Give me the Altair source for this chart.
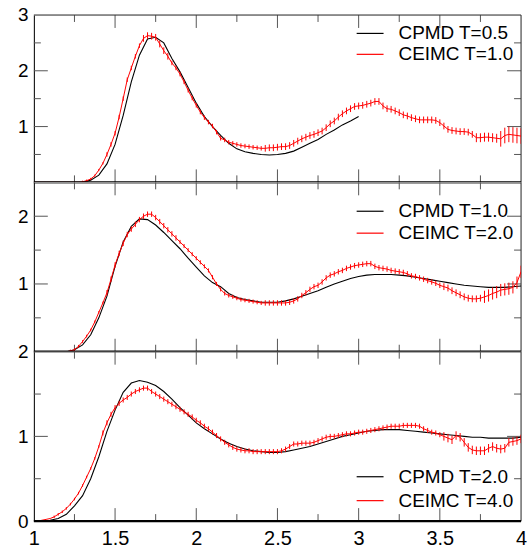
import altair as alt
import pandas as pd

FONT = "Liberation Sans"
W = 489
HEIGHTS = [168, 170, 170]
Y_MAX = [3.0, 2.5, 2.0]
Y_LABELS = [[1, 2, 3], [1, 2], [0, 1, 2]]
Y_MAJOR = [[1, 2], [1, 2], [1]]
Y_MINOR = [[0.5, 1.5, 2.5], [0.5, 1.5], [0.5, 1.5]]
X_MAJOR = [1.5, 2.0, 2.5, 3.0, 3.5]
X_MINOR = [1.25, 1.75, 2.25, 2.75, 3.25, 3.75]
X_LABELS = [1, 1.5, 2, 2.5, 3, 3.5, 4]
BLACK_NAMES = ["CPMD T=0.5", "CPMD T=1.0", "CPMD T=2.0"]
RED_NAMES = ["CEIMC T=1.0", "CEIMC T=2.0", "CEIMC T=4.0"]

# sampling grids
X_RED = [round(1.0 + 0.025 * i, 3) for i in range(121)]
X_BLACK = [round(1.0 + 0.05 * i, 3) for i in range(61)]

# ---- top panel ----
TOP_BLACK = [0, 0, 0, 0, 0, 0, 0.0, 0.04, 0.13, 0.33, 0.68, 1.20, 1.80, 2.28, 2.57, 2.60,
             2.50, 2.22, 1.98, 1.70, 1.42, 1.18, 1.00, 0.84, 0.70, 0.60, 0.55, 0.52, 0.50,
             0.49, 0.50, 0.52, 0.56, 0.63, 0.70, 0.77, 0.86, 0.94, 1.03, 1.10, 1.18]
TOP_RED = [0, 0, 0, 0, 0, 0, 0, 0, 0, 0, 0, 0,
           0.01, 0.03, 0.06, 0.12, 0.22, 0.34, 0.50, 0.68, 0.88, 1.17, 1.50, 1.84, 2.05,
           2.26, 2.45, 2.58, 2.63, 2.62, 2.60, 2.48, 2.36, 2.26, 2.14, 2.05, 1.94, 1.80,
           1.65, 1.51, 1.38, 1.26, 1.16, 1.08, 1.01, 0.90, 0.79, 0.76, 0.72, 0.70, 0.68,
           0.66, 0.65, 0.64, 0.63, 0.62, 0.61, 0.61, 0.62, 0.62, 0.63, 0.64, 0.64, 0.66,
           0.70, 0.74, 0.78, 0.81, 0.84, 0.86, 0.89, 0.92, 0.98, 1.05, 1.10, 1.17, 1.23,
           1.28, 1.32, 1.36, 1.37, 1.38, 1.40, 1.42, 1.45, 1.45, 1.37, 1.32, 1.31, 1.28,
           1.25, 1.21, 1.19, 1.16, 1.14, 1.12, 1.12, 1.12, 1.12, 1.11, 1.07, 1.01, 0.95,
           0.93, 0.92, 0.91, 0.91, 0.90, 0.86, 0.80, 0.80, 0.81, 0.81, 0.80, 0.79, 0.78,
           0.84, 0.86, 0.85, 0.84, 0.83]
TOP_ERR = [0, 0, 0, 0, 0, 0, 0, 0, 0, 0, 0, 0,
           0.02, 0.02, 0.02, 0.02, 0.02, 0.02,
           0.04, 0.04, 0.04, 0.04, 0.04, 0.04, 0.04, 0.04, 0.04,
           0.06, 0.06, 0.06, 0.06, 0.06, 0.06, 0.06,
           0.04, 0.04, 0.04, 0.04, 0.04, 0.04, 0.04, 0.04, 0.04, 0.04, 0.04, 0.04,
           0.04, 0.04, 0.04, 0.04, 0.04, 0.04, 0.04, 0.04, 0.04, 0.04, 0.04,
           0.06, 0.06, 0.06, 0.06, 0.06, 0.06, 0.06, 0.06, 0.06, 0.06, 0.06, 0.06, 0.06,
           0.06, 0.06, 0.06, 0.06, 0.06, 0.06, 0.06, 0.06, 0.06, 0.06, 0.06, 0.06, 0.06,
           0.06, 0.06, 0.06, 0.06, 0.06, 0.06, 0.06, 0.06, 0.06, 0.06, 0.06, 0.06, 0.06,
           0.06, 0.06, 0.06, 0.06, 0.06, 0.06, 0.06, 0.06, 0.06, 0.06, 0.06, 0.06, 0.06,
           0.08, 0.08, 0.08, 0.08, 0.08, 0.08,
           0.14, 0.14, 0.14, 0.14, 0.14, 0.14]

# ---- middle panel ----
MID_BLACK = [0, 0, 0, 0, 0.0, 0.03, 0.10, 0.25, 0.50, 0.82, 1.26, 1.62, 1.85, 1.96, 1.95,
             1.87, 1.76, 1.64, 1.52, 1.38, 1.25, 1.12, 1.02, 0.96, 0.86, 0.80, 0.77, 0.75,
             0.73, 0.73, 0.73, 0.75, 0.78, 0.82, 0.86, 0.90, 0.95, 1.00, 1.04, 1.08, 1.11,
             1.13, 1.14, 1.14, 1.14, 1.13, 1.12, 1.10, 1.08, 1.06, 1.04, 1.02, 1.00, 0.98,
             0.97, 0.96, 0.95, 0.95, 0.95, 0.96, 0.97]
MID_RED = [0, 0, 0, 0, 0, 0, 0, 0, 0,
           0.01, 0.03, 0.08, 0.15, 0.23, 0.32, 0.44, 0.58, 0.72, 0.87, 1.07, 1.28, 1.45,
           1.60, 1.73, 1.81, 1.88, 1.95, 2.00, 2.03, 2.03, 1.98, 1.92, 1.86, 1.80, 1.74,
           1.68, 1.62, 1.56, 1.50, 1.44, 1.38, 1.32, 1.26, 1.20, 1.10, 1.00, 0.92, 0.86,
           0.83, 0.81, 0.79, 0.77, 0.76, 0.75, 0.74, 0.73, 0.72,
           0.72, 0.72, 0.72, 0.72, 0.72, 0.72, 0.73, 0.75, 0.78, 0.83, 0.87, 0.92, 0.96,
           0.98, 1.03, 1.09, 1.13, 1.15, 1.18, 1.20, 1.23, 1.25, 1.27, 1.28, 1.29, 1.30,
           1.30, 1.26, 1.24, 1.23, 1.22, 1.20, 1.19, 1.18, 1.17, 1.15, 1.12, 1.11, 1.09,
           1.07, 1.05, 1.03, 1.01, 0.98, 0.96, 0.94, 0.90, 0.87, 0.84, 0.81, 0.79, 0.78,
           0.78, 0.79, 0.81, 0.83, 0.86, 0.88, 0.91, 0.92, 0.93, 0.95, 1.02, 1.18]
MID_ERR = [0, 0, 0, 0, 0, 0, 0, 0, 0,
           0.02, 0.02, 0.02, 0.02, 0.02, 0.02, 0.02, 0.02, 0.02,
           0.04, 0.04, 0.04, 0.04, 0.04, 0.04, 0.04, 0.04, 0.04, 0.04, 0.04, 0.04, 0.04,
           0.04, 0.04, 0.04, 0.04, 0.04,
           0.03, 0.03, 0.03, 0.03, 0.03, 0.03, 0.03, 0.03, 0.03, 0.03, 0.03, 0.03, 0.03,
           0.03, 0.03, 0.03, 0.03, 0.03, 0.03, 0.03, 0.03,
           0.04, 0.04, 0.04, 0.04, 0.04, 0.04, 0.04, 0.04, 0.04, 0.04, 0.04, 0.04, 0.04,
           0.04, 0.04, 0.04, 0.04, 0.04, 0.04, 0.04, 0.04, 0.04, 0.04, 0.04, 0.04, 0.04,
           0.04, 0.04, 0.04, 0.04, 0.04, 0.04, 0.04, 0.04, 0.04, 0.04, 0.04, 0.04, 0.04,
           0.04, 0.04, 0.04, 0.04, 0.04,
           0.05, 0.05, 0.05, 0.05, 0.05, 0.05, 0.05, 0.05, 0.05, 0.05,
           0.09, 0.09, 0.09, 0.09, 0.09, 0.09, 0.09, 0.09, 0.09, 0.09]

# ---- bottom panel ----
BOT_BLACK = [0, 0, 0.01, 0.03, 0.08, 0.18, 0.30, 0.50, 0.76, 1.06, 1.31, 1.52, 1.63, 1.66,
             1.64, 1.60, 1.53, 1.44, 1.34, 1.25, 1.16, 1.09, 1.03, 0.97, 0.92, 0.88, 0.85,
             0.83, 0.82, 0.81, 0.81, 0.82, 0.84, 0.86, 0.88, 0.91, 0.94, 0.97, 1.00, 1.02,
             1.04, 1.06, 1.07, 1.08, 1.08, 1.08, 1.07, 1.06, 1.05, 1.04, 1.03, 1.02, 1.01,
             1.00, 0.99, 0.99, 0.98, 0.98, 0.98, 0.98, 0.99]
BOT_RED = [0.00, 0.00, 0.01, 0.02, 0.03, 0.05, 0.08, 0.11, 0.15, 0.20, 0.26, 0.33, 0.42,
           0.52, 0.62, 0.74, 0.88, 1.04, 1.16, 1.26, 1.34, 1.39, 1.43, 1.46, 1.50, 1.53,
           1.55, 1.57, 1.57, 1.53, 1.50, 1.47, 1.44, 1.41, 1.38, 1.35, 1.32, 1.29, 1.26,
           1.23, 1.19, 1.16, 1.12, 1.09, 1.05, 1.01, 0.97, 0.93, 0.90, 0.87, 0.85, 0.84,
           0.83, 0.83, 0.82, 0.82, 0.82, 0.82, 0.82, 0.82, 0.82, 0.83, 0.85, 0.88, 0.91,
           0.91, 0.92, 0.92, 0.92, 0.93, 0.95, 0.97, 0.99, 1.00, 1.00, 1.01, 1.02, 1.03,
           1.03, 1.04, 1.05, 1.05, 1.06, 1.07, 1.08, 1.09, 1.10, 1.11, 1.12, 1.12, 1.12,
           1.13, 1.13, 1.13, 1.13, 1.12, 1.09, 1.07, 1.05, 1.04, 1.02, 1.00, 0.98, 0.96,
           1.01, 0.99, 0.93, 0.87, 0.84, 0.83, 0.83, 0.83, 0.86, 0.88, 0.86, 0.85, 0.86,
           0.93, 0.94, 0.95, 0.97]
BOT_ERR = [0, 0, 0, 0, 0,
           0.015, 0.015, 0.015, 0.015, 0.015, 0.015, 0.015, 0.015, 0.015, 0.015, 0.015, 0.015,
           0.03, 0.03, 0.03, 0.03, 0.03, 0.03, 0.03, 0.03, 0.03, 0.03, 0.03, 0.03, 0.03,
           0.03, 0.03, 0.03, 0.03, 0.03, 0.03, 0.03, 0.03, 0.03, 0.03, 0.03, 0.03, 0.03,
           0.03, 0.03, 0.03, 0.03, 0.03, 0.03, 0.03, 0.03, 0.03, 0.03, 0.03, 0.03, 0.03,
           0.03, 0.03, 0.03, 0.03, 0.03, 0.03, 0.03, 0.03, 0.03, 0.03, 0.03, 0.03, 0.03,
           0.03, 0.03, 0.03, 0.03, 0.03, 0.03, 0.03, 0.03, 0.03, 0.03, 0.03, 0.03, 0.03,
           0.03, 0.03, 0.03, 0.03, 0.03, 0.03, 0.03, 0.03, 0.03, 0.03, 0.03, 0.03, 0.03,
           0.03, 0.03, 0.03, 0.03, 0.03, 0.03,
           0.05, 0.05, 0.05, 0.05, 0.05, 0.05, 0.05, 0.05, 0.05, 0.05, 0.05, 0.05, 0.05,
           0.05, 0.05, 0.05, 0.05, 0.05, 0.05, 0.05]

BLACKS = [TOP_BLACK, MID_BLACK, BOT_BLACK]
REDS = [TOP_RED, MID_RED, BOT_RED]
ERRS = [TOP_ERR, MID_ERR, BOT_ERR]

# legend row offsets (px from the panel top), one legend per series
LEG_Y_BLACK = [4, 14.5, 111]
LEG_Y_RED = [25, 36.5, 135]

TICK_COLOR = "#555555"
FRAME_COLOR = "#333333"
MAJOR_LEN = 13
MINOR_LEN = 7


def legend(y):
    return alt.Legend(title=None, orient="none", legendX=323, legendY=y,
                      symbolType="stroke", symbolSize=729, symbolStrokeWidth=1.2,
                      labelFont=FONT, labelFontSize=19, labelColor="black",
                      labelOffset=14, padding=0)


def panel(k):
    h = HEIGHTS[k]
    bottom = (k == 2)
    xs = alt.Scale(domain=[1, 4], nice=False, zero=False)
    ys = alt.Scale(domain=[0, Y_MAX[k]], nice=False, zero=False)
    if bottom:
        xaxis = alt.Axis(values=X_LABELS, format="~g", ticks=False, grid=False, title=None,
                         labelFont=FONT, labelFontSize=20, labelColor="black",
                         labelPadding=8, labelFlush=False, labelOverlap=False,
                         domain=False)
    else:
        xaxis = alt.Axis(labels=False, ticks=False, grid=False, title=None, domain=False)
    yaxis = alt.Axis(values=Y_LABELS[k], format="~g", ticks=False, grid=False, title=None,
                     labelFont=FONT, labelFontSize=19, labelColor="black",
                     labelPadding=6, labelOverlap=False, labelFlush=False,
                     domainColor="black", domainWidth=1)

    bl = BLACKS[k]
    dfb = pd.DataFrame({"x": X_BLACK[:len(bl)], "y": bl, "s": BLACK_NAMES[k]})
    dfr = pd.DataFrame({"x": X_RED, "y": REDS[k], "s": RED_NAMES[k], "e": ERRS[k]})
    dfr["lo"] = dfr["y"] - dfr["e"]
    dfr["hi"] = dfr["y"] + dfr["e"]
    dfe = dfr[dfr["e"] > 0]

    cb = alt.Color("s:N", scale=alt.Scale(domain=[BLACK_NAMES[k]], range=["black"]),
                   legend=legend(LEG_Y_BLACK[k]))
    cr = alt.Color("s:N", scale=alt.Scale(domain=[RED_NAMES[k]], range=["#ff0000"]),
                   legend=legend(LEG_Y_RED[k]))

    X = alt.X("x:Q", scale=xs, axis=xaxis)
    Y = alt.Y("y:Q", scale=ys, axis=yaxis)

    black = alt.Chart(dfb).mark_line(strokeWidth=1.1, clip=True).encode(x=X, y=Y, color=cb)
    red = alt.Chart(dfr).mark_line(strokeWidth=1, clip=True).encode(x=X, y=Y, color=cr)
    err = alt.Chart(dfe).mark_rule(color="#ff0000", strokeWidth=1, clip=True).encode(
        x=X, y=alt.Y("lo:Q", scale=ys, axis=yaxis), y2="hi:Q")

    def rule():
        return dict(color=TICK_COLOR, strokeWidth=1)

    layers = []
    for vals, ln in ((X_MAJOR, MAJOR_LEN), (X_MINOR, MINOR_LEN)):
        d = pd.DataFrame({"t": vals})
        XT = alt.X("t:Q", scale=xs, axis=xaxis)
        layers.append(alt.Chart(d).mark_rule(**rule()).encode(
            x=XT, y=alt.value(h), y2=alt.value(h - ln)))
        layers.append(alt.Chart(d).mark_rule(**rule()).encode(
            x=XT, y=alt.value(0), y2=alt.value(ln)))
    for vals, ln in ((Y_MAJOR[k], MAJOR_LEN + 1), (Y_MINOR[k], MINOR_LEN)):
        d = pd.DataFrame({"t": vals})
        YT = alt.Y("t:Q", scale=ys, axis=yaxis)
        layers.append(alt.Chart(d).mark_rule(**rule()).encode(
            y=YT, x=alt.value(0), x2=alt.value(ln)))
        layers.append(alt.Chart(d).mark_rule(**rule()).encode(
            y=YT, x=alt.value(W), x2=alt.value(W - ln)))

    frame = pd.DataFrame({"t": [0]})
    layers.append(alt.Chart(frame).mark_rule(color=FRAME_COLOR, strokeWidth=1).encode(
        x=alt.value(W), y=alt.value(0), y2=alt.value(h)))
    if k == 0:
        layers.append(alt.Chart(frame).mark_rule(color=FRAME_COLOR, strokeWidth=1).encode(
            y=alt.value(0), x=alt.value(0), x2=alt.value(W)))
    layers += [black, red, err]
    # thick black baseline of each panel (the divider between panels)
    layers.append(alt.Chart(frame).mark_rule(color="black", strokeWidth=2.2).encode(
        y=alt.value(h), x=alt.value(0), x2=alt.value(W)))
    return alt.layer(*layers).resolve_scale(color="independent").resolve_legend(
        color="independent").properties(width=W, height=h)


chart = alt.vconcat(panel(0), panel(1), panel(2), spacing=0, bounds="flush").resolve_scale(
    color="independent").resolve_legend(color="independent").properties(
    padding={"left": 16, "top": 4, "right": 0, "bottom": 0}
).configure_view(strokeWidth=0).configure(background="white")

chart.save("out.html", embed_options={"renderer": "svg", "actions": False})
